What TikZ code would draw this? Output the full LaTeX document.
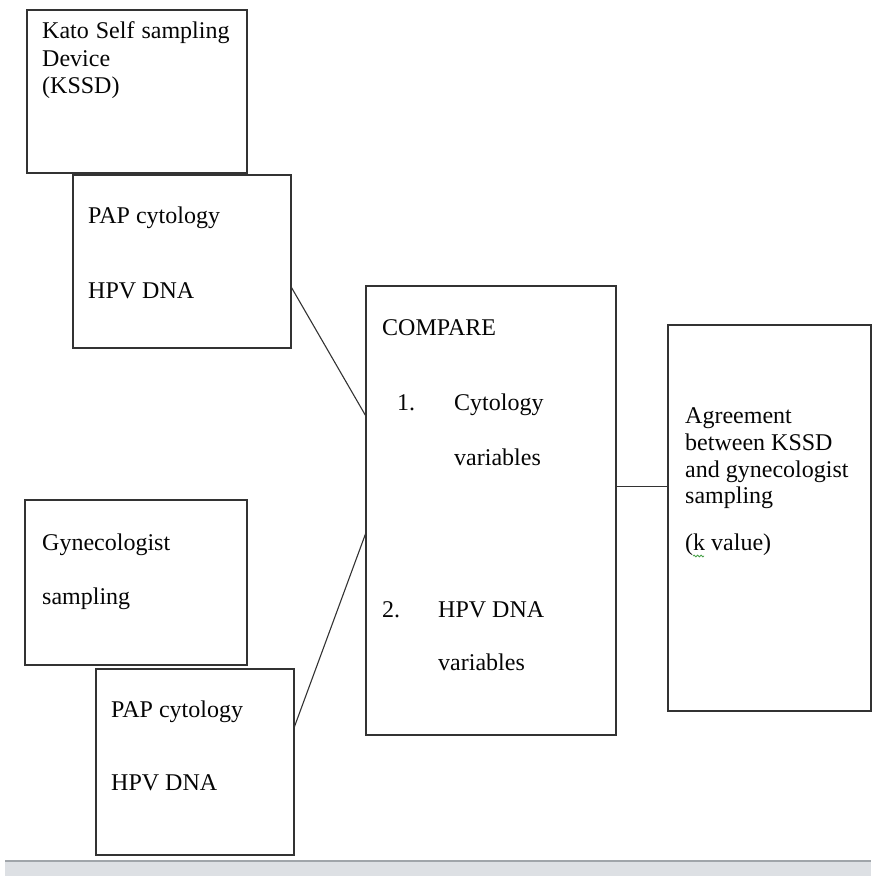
\documentclass[tikz,border=0pt]{standalone}
\usepackage{fontspec}
\setmainfont{Liberation Serif}
\usepackage{tikz}
\usetikzlibrary{calc, decorations.pathmorphing, positioning}
\usepackage{xcolor}
\definecolor{LineBlack}{gray}{0.20}
\definecolor{TextBlack}{gray}{0.02}
\definecolor{BarGray}{RGB}{221, 224, 228}
\definecolor{BarEdge}{RGB}{160, 165, 170}
\definecolor{SpellGreen}{RGB}{70, 160, 70}
\tikzset{%
  box/.style={%
    rectangle,%
    draw=LineBlack,%
    line width=1.1pt,%
    inner sep=0pt,%
    outer sep=0pt,%
    anchor=north west,%
  },
  box_text/.style={%
    anchor=base west,%
    inner sep=0pt,%
    color=TextBlack,%
    font={\fontsize{24}{28}\selectfont},%
  },
  link/.style={%
    color=LineBlack,%
    line width=1.1pt,%
    line join=round,%
  },
  spell_mark/.style={%
    color=SpellGreen,%
    line width=0.8pt,%
    decorate,%
    decoration={snake, amplitude=0.9, segment length=3.5},%
  },
}

\begin{document}
\begin{tikzpicture}[x=1pt, y=-1pt]

    \useasboundingbox (0, 0) rectangle (871, 876);

    % status bar along the bottom
    \fill [BarGray] (5, 862) rectangle (871, 876);
    \draw [BarEdge, line width=1.5pt] (5, 861) -- (871, 861);

    \node [box, minimum width=220, minimum height=163] (KSSD) at (27, 10) {};
    \node [box, minimum width=218, minimum height=173] (PapSelf) at (73, 175) {};
    \node [box, minimum width=222, minimum height=165] (Gyn) at (25, 500) {};
    \node [box, minimum width=198, minimum height=186] (PapGyn) at (96, 669) {};
    \node [box, minimum width=250, minimum height=449] (Compare) at (366, 286) {};
    \node [box, minimum width=203, minimum height=386] (Agree) at (668, 325) {};

    \node [box_text] (kssd_1) at (42, 38) {Kato\hspace{1pt} Self\hspace{1pt} sampling};
    \node [box_text] (kssd_2) at (42, 66) {Device};
    \node [box_text] (kssd_3) at (42, 93) {(KSSD)};

    \node [box_text] (pap_self_1) at (88, 223) {PAP cytology};
    \node [box_text] (pap_self_2) at (88, 298) {HPV DNA};

    \node [box_text] (gyn_1) at (42, 550) {Gynecologist};
    \node [box_text] (gyn_2) at (42, 604) {sampling};

    \node [box_text] (pap_gyn_1) at (111, 717) {PAP cytology};
    \node [box_text] (pap_gyn_2) at (111, 790) {HPV DNA};

    \node [box_text] (cmp_title) at (382, 335) {COMPARE};
    \node [box_text] (cmp_num1) at (397, 410) {1.};
    \node [box_text] (cmp_item1) at (454, 410) {Cytology};
    \node [box_text] (cmp_item1b) at (454, 465) {variables};
    \node [box_text] (cmp_num2) at (382, 617) {2.};
    \node [box_text] (cmp_item2) at (438, 617) {HPV DNA};
    \node [box_text] (cmp_item2b) at (438, 670) {variables};

    \node [box_text] (agree_1) at (685, 423) {Agreement};
    \node [box_text] (agree_2) at (685, 450) {between KSSD};
    \node [box_text] (agree_3) at (685, 477) {and gynecologist};
    \node [box_text] (agree_4) at (685, 503) {sampling};
    \node [box_text] (kval) at (685, 550) {(k value)};

    \draw [spell_mark]
      ($(kval.base west) + (8, 6)$) -- ($(kval.base west) + (19, 6)$);

    \draw [link]
      (PapSelf.-13) -- (Compare.143.5);
    \draw [link]
      (PapGyn.19.5) -- (Compare.190.2);
    \draw [link]
      (Compare.11.5) -- (Compare.11.5 -| Agree.west);
  \end{tikzpicture}
\end{document}
